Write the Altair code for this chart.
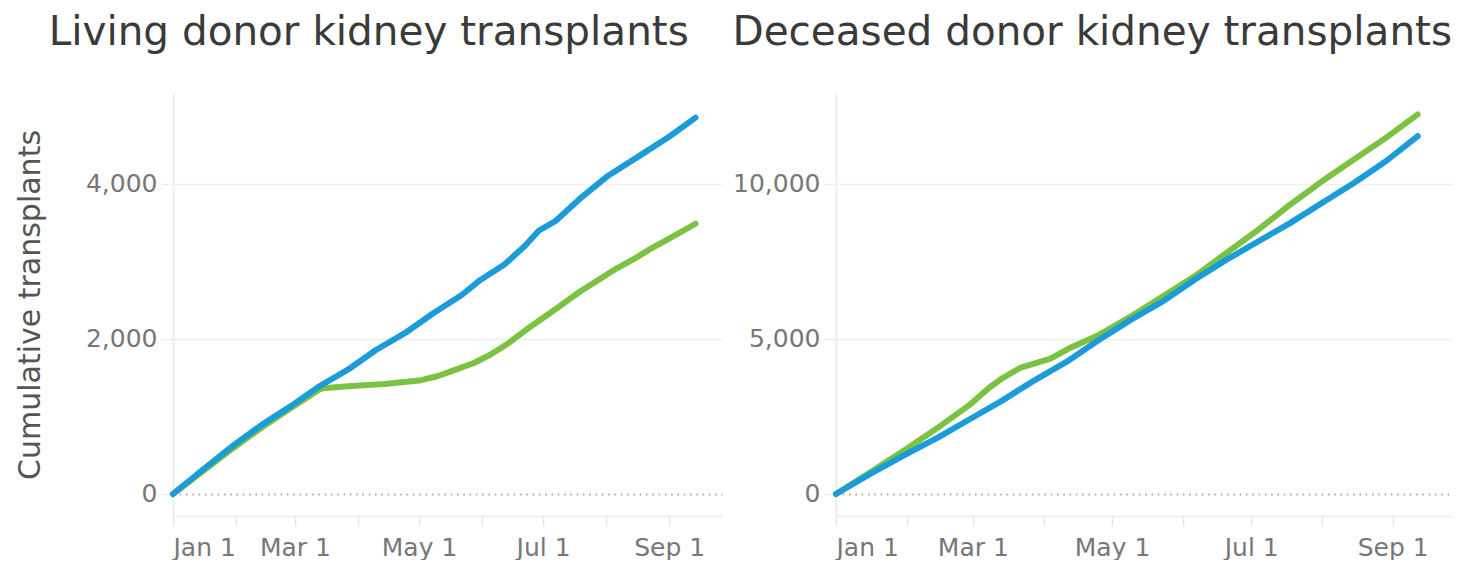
import altair as alt
import pandas as pd

FONT = "DejaVu Sans"
BLUE = "#1b9bd7"
GREEN = "#7cc242"

# ---- Living donor kidney transplants (cumulative) ----
living_2019_dates = ["2020-01-01", "2020-01-17", "2020-01-31", "2020-02-14", "2020-02-28",
                     "2020-03-13", "2020-03-27", "2020-04-10", "2020-04-24", "2020-05-08",
                     "2020-05-22", "2020-05-31", "2020-06-12", "2020-06-22", "2020-06-29",
                     "2020-07-07", "2020-07-19", "2020-08-02", "2020-08-16", "2020-09-01",
                     "2020-09-14"]
living_2019 = [0, 342, 633, 898, 1134, 1390, 1604, 1861, 2075, 2332, 2567, 2759, 2960,
               3200, 3400, 3520, 3807, 4107, 4340, 4610, 4856]

living_2020_dates = ["2020-01-01", "2020-01-17", "2020-01-31", "2020-02-14", "2020-02-28",
                     "2020-03-13", "2020-03-15", "2020-03-27", "2020-04-14", "2020-05-01",
                     "2020-05-10", "2020-05-19", "2020-05-28", "2020-06-05", "2020-06-14",
                     "2020-06-23", "2020-07-02", "2020-07-10", "2020-07-19", "2020-07-28",
                     "2020-08-06", "2020-08-15", "2020-08-23", "2020-09-01", "2020-09-14"]
living_2020 = [0, 320, 600, 865, 1110, 1348, 1365, 1390, 1420, 1463, 1519, 1604, 1690,
               1797, 1946, 2125, 2290, 2438, 2610, 2759, 2909, 3037, 3166, 3294, 3487]

# ---- Deceased donor kidney transplants (cumulative) ----
deceased_2019_dates = ["2020-01-01", "2020-01-16", "2020-02-01", "2020-02-15", "2020-02-29",
                       "2020-03-14", "2020-03-28", "2020-04-11", "2020-04-25", "2020-05-09",
                       "2020-05-23", "2020-06-06", "2020-06-20", "2020-07-04", "2020-07-18",
                       "2020-08-01", "2020-08-15", "2020-08-29", "2020-09-12"]
deceased_2019 = [0, 647, 1294, 1834, 2427, 3020, 3668, 4261, 4962, 5609, 6203, 6904, 7551,
                 8144, 8737, 9385, 10032, 10733, 11542]

deceased_2020_dates = ["2020-01-01", "2020-01-16", "2020-02-01", "2020-02-15", "2020-02-29",
                       "2020-03-08", "2020-03-14", "2020-03-22", "2020-04-04", "2020-04-12",
                       "2020-04-25", "2020-05-09", "2020-05-23", "2020-06-06", "2020-06-20",
                       "2020-07-04", "2020-07-18", "2020-08-01", "2020-08-15", "2020-08-29",
                       "2020-09-12"]
deceased_2020 = [0, 701, 1456, 2157, 2900, 3420, 3740, 4080, 4369, 4692, 5124, 5717, 6364,
                 7012, 7767, 8522, 9331, 10086, 10787, 11488, 12243]

series_names = ["2019", "2020"]
series_colors = [BLUE, GREEN]

titles = ["Living donor kidney transplants", "Deceased donor kidney transplants"]
y_title = "Cumulative transplants"
living_ticks = [0, 2000, 4000]
deceased_ticks = [0, 5000, 10000]
tick_months = [1, 2, 3, 4, 5, 6, 7, 8, 9]


def frame(dates, values, name):
    return pd.DataFrame({"date": dates, "value": values, "series": name})


living = pd.concat([frame(living_2019_dates, living_2019, "2019"),
                    frame(living_2020_dates, living_2020, "2020")])
deceased = pd.concat([frame(deceased_2019_dates, deceased_2019, "2019"),
                      frame(deceased_2020_dates, deceased_2020, "2020")])

x_domain = [alt.DateTime(year=2020, month=1, date=1, utc=True),
            alt.DateTime(year=2020, month=9, date=27, utc=True)]

x_axis = alt.Axis(
    values=[alt.DateTime(year=2020, month=m, date=1, utc=True) for m in tick_months],
    labelExpr="utcmonth(datum.value) % 2 === 0 ? utcFormat(datum.value, '%b %-d') : ''",
    grid=False, tickSize=10, tickWidth=1.5, tickColor="#e4e4e4",
    domainColor="#eeeeee", domainWidth=2,
    labelFont=FONT, labelFontSize=25, labelColor="#777777", labelPadding=9,
    labelOverlap=False, labelFlush=True, title=None,
)


def y_axis(ticks, title):
    kw = dict(
        values=ticks, format=",d", grid=True,
        gridColor={"condition": {"test": "datum.value === 0", "value": "#a9a9a9"}, "value": "#efefef"},
        gridDash={"condition": {"test": "datum.value === 0", "value": [1.5, 4.8]}, "value": []},
        gridWidth={"condition": {"test": "datum.value === 0", "value": 1.8}, "value": 1.5},
        domain=True, domainColor="#eeeeee", domainWidth=2,
        tickSize=12, tickWidth=1.5, tickColor="#ececec",
        labelFont=FONT, labelFontSize=25, labelColor="#777777", labelPadding=4,
    )
    if title:
        kw.update(title=title, titleFont=FONT, titleFontSize=30, titleFontWeight="normal",
                  titleColor="#555555", titlePadding=40)
    else:
        kw.update(title=None)
    return alt.Axis(**kw)


def panel(data, y_domain, ticks, title, ytitle, width):
    base = alt.Chart(data).mark_line(strokeWidth=6, strokeCap="round", strokeJoin="round").encode(
        x=alt.X("date:T", scale=alt.Scale(type="utc", domain=x_domain), axis=x_axis),
        y=alt.Y("value:Q", scale=alt.Scale(domain=y_domain, nice=False, zero=False),
                axis=y_axis(ticks, ytitle)),
        color=alt.Color("series:N", scale=alt.Scale(domain=series_names, range=series_colors),
                        legend=None),
    )
    return alt.layer(
        base.transform_filter(alt.datum.series == "2020"),
        base.transform_filter(alt.datum.series == "2019"),
    ).properties(
        width=width, height=423,
        title=alt.TitleParams(text=title, font=FONT, fontSize=40.5, fontWeight="normal",
                              color="#3a3a3a", anchor="middle", frame="bounds", offset=40),
    )


left = panel(living, [-284, 5174], living_ticks, titles[0], y_title, 549)
right = panel(deceased, [-710, 12935], deceased_ticks, titles[1], None, 616)

chart = alt.hconcat(left, right, spacing=10).properties(
    padding={"left": 7, "right": 0, "top": 4, "bottom": 0},
    background="white",
).configure_view(strokeWidth=0)

chart.save("out.html", embed_options={"renderer": "svg", "actions": False})
